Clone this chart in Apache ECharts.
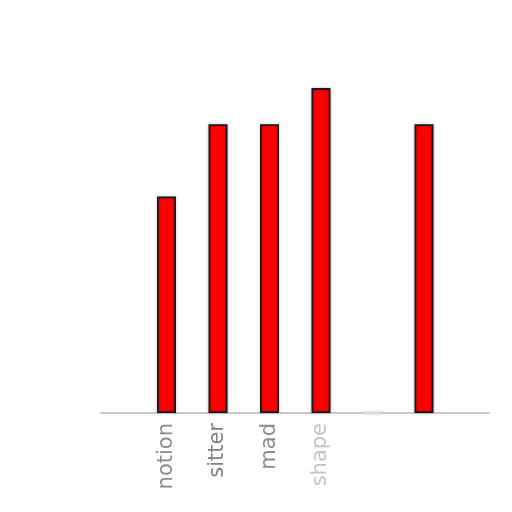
<!DOCTYPE html>
<html><head><meta charset="utf-8">
<script src="https://cdn.jsdelivr.net/npm/echarts@6/dist/echarts.min.js"></script>
<style>html,body{margin:0;padding:0;background:#fff}#c{width:512px;height:512px}</style>
</head><body><div id="c"></div>
<script>
var categories = ['notion', 'sitter', 'mad', 'shape', '', ''];
var values = [3, 4, 4, 4.5, 0, 4];
var labelColors = ['#8c8c8c', '#808080', '#8c8c8c', '#c4c4c4', '#cccccc', '#cccccc'];

var chart = echarts.init(document.getElementById('c'));
chart.setOption({
  backgroundColor: '#ffffff',
  animation: false,
  grid: [
    {left: 101, right: 23, top: 52, bottom: 99},
    {left: 140.75, right: 62.25, top: 52, bottom: 99}
  ],
  xAxis: [
    {gridIndex: 0, type: 'value', min: 0, max: 1,
     axisLine: {show: true, lineStyle: {color: '#c8c8c8', width: 2}},
     axisTick: {show: false}, axisLabel: {show: false}, splitLine: {show: false}},
    {gridIndex: 1, type: 'category', data: categories,
     axisLine: {show: false}, axisTick: {show: false}, splitLine: {show: false},
     axisLabel: {
       rotate: 90, margin: 10, fontSize: 21, fontFamily: 'DejaVu Sans',
       color: function (v, i) { return labelColors[i]; }
     }}
  ],
  yAxis: [
    {gridIndex: 0, type: 'value', min: 0, max: 5, show: false},
    {gridIndex: 1, type: 'value', min: 0, max: 5, show: false}
  ],
  series: [{
    type: 'bar', xAxisIndex: 1, yAxisIndex: 1,
    data: values.map(function (v) {
      return v === 0 ? {value: v, itemStyle: {borderColor: '#d8d8d8'}} : v;
    }),
    barWidth: 19,
    itemStyle: {color: '#ff0000', borderColor: '#1a1a1a', borderWidth: 1.8,
                shadowColor: 'rgba(0,0,0,0.25)', shadowBlur: 3}
  }]
});
</script></body></html>
